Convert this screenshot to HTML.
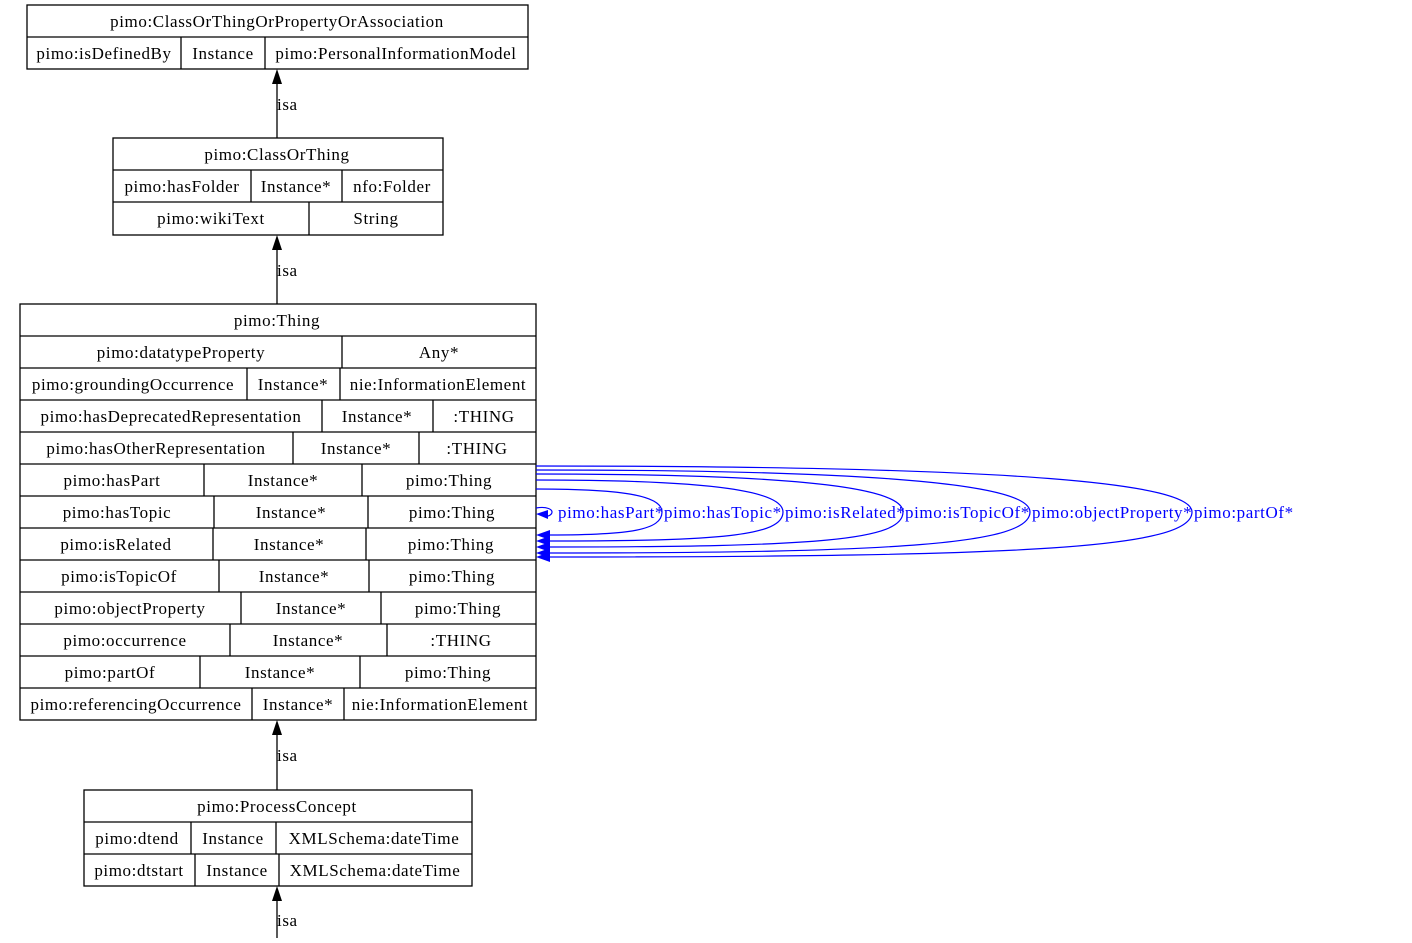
<!DOCTYPE html>
<html><head><style>
body{margin:0;background:#fff;}
svg text{font-family:"Liberation Serif",serif;font-size:17px;letter-spacing:0.6px;}
</style></head><body>
<svg width="1412" height="938" viewBox="0 0 1412 938" xmlns="http://www.w3.org/2000/svg">
<rect width="1412" height="938" fill="#fff"/>
<g fill="none" stroke="#000" stroke-width="1.3">
<rect x="27" y="5" width="501" height="64"/>
<line x1="27" y1="37" x2="528" y2="37"/>
<line x1="181" y1="37" x2="181" y2="69"/><line x1="265" y1="37" x2="265" y2="69"/>
<rect x="113" y="138" width="330" height="97"/>
<line x1="113" y1="170" x2="443" y2="170"/><line x1="113" y1="202" x2="443" y2="202"/>
<line x1="251" y1="170" x2="251" y2="202"/><line x1="342" y1="170" x2="342" y2="202"/>
<line x1="309" y1="202" x2="309" y2="235"/>
<rect x="20" y="304" width="516" height="416"/>
<path d="M20 336H536M20 368H536M20 400H536M20 432H536M20 464H536M20 496H536M20 528H536M20 560H536M20 592H536M20 624H536M20 656H536M20 688H536"/>
<path d="M342 336V368 M247 368V400M340 368V400 M322 400V432M433 400V432 M293 432V464M419 432V464 M204 464V496M362 464V496 M214 496V528M368 496V528 M213 528V560M366 528V560 M219 560V592M369 560V592 M241 592V624M381 592V624 M230 624V656M387 624V656 M200 656V688M360 656V688 M252 688V720M344 688V720"/>
<rect x="84" y="790" width="388" height="96"/>
<line x1="84" y1="822" x2="472" y2="822"/><line x1="84" y1="854" x2="472" y2="854"/>
<path d="M191 822V854M276 822V854M195 854V886M279 854V886"/>
<path d="M277 84V138M277 250V304M277 735V790M277 901V938"/>
</g>
<g fill="#000">
<polygon points="277,69 272,84 282,84"/><polygon points="277,235 272,250 282,250"/>
<polygon points="277,720 272,735 282,735"/><polygon points="277,886 272,901 282,901"/>
</g>
<g fill="none" stroke="#0000ff" stroke-width="1.2">
<path d="M536 489 C630 489,662 497,662 512 C662 530,630 535,550 535"/>
<path d="M536 480 C720 480,783 492,783 512 C783 536,720 541,550 541"/>
<path d="M536 474 C820 474,903 490,903 512 C903 540,820 547,550 547"/>
<path d="M536 470 C900 470,1030 486,1030 512 C1030 544,900 553,550 553"/>
<path d="M536 466 C1030 466,1192 484,1192 512 C1192 548,1030 557,550 557"/>
<path d="M536 508 C548 506,552 510,552 512 C552 515,548 516,548 516"/>
</g>
<g fill="#0000ff">
<polygon points="536,514 548,510 548,519"/>
<polygon points="536,535 550,530 550,540"/><polygon points="536,541 550,536 550,546"/>
<polygon points="536,547 550,542 550,552"/><polygon points="536,553 550,548 550,558"/>
<polygon points="536,557 550,552 550,562"/>
</g>
<g fill="#0000ff" style="letter-spacing:0.2px">
<text x="558" y="518">pimo:hasPart*</text>
<text x="664" y="518">pimo:hasTopic*</text>
<text x="785" y="518">pimo:isRelated*</text>
<text x="905" y="518">pimo:isTopicOf*</text>
<text x="1032" y="518">pimo:objectProperty*</text>
<text x="1194" y="518">pimo:partOf*</text>
</g>
<g fill="#000" text-anchor="middle">
<text x="277" y="27">pimo:ClassOrThingOrPropertyOrAssociation</text>
<text x="104" y="59">pimo:isDefinedBy</text><text x="223" y="59">Instance</text><text x="396" y="59">pimo:PersonalInformationModel</text>
<text x="277" y="160">pimo:ClassOrThing</text>
<text x="182" y="192">pimo:hasFolder</text><text x="296" y="192">Instance*</text><text x="392" y="192">nfo:Folder</text>
<text x="211" y="224">pimo:wikiText</text><text x="376" y="224">String</text>
<text x="277" y="326">pimo:Thing</text>
<text x="181" y="358">pimo:datatypeProperty</text><text x="439" y="358">Any*</text>
<text x="133" y="390">pimo:groundingOccurrence</text><text x="293" y="390">Instance*</text><text x="438" y="390">nie:InformationElement</text>
<text x="171" y="422">pimo:hasDeprecatedRepresentation</text><text x="377" y="422">Instance*</text><text x="484" y="422">:THING</text>
<text x="156" y="454">pimo:hasOtherRepresentation</text><text x="356" y="454">Instance*</text><text x="477" y="454">:THING</text>
<text x="112" y="486">pimo:hasPart</text><text x="283" y="486">Instance*</text><text x="449" y="486">pimo:Thing</text>
<text x="117" y="518">pimo:hasTopic</text><text x="291" y="518">Instance*</text><text x="452" y="518">pimo:Thing</text>
<text x="116" y="550">pimo:isRelated</text><text x="289" y="550">Instance*</text><text x="451" y="550">pimo:Thing</text>
<text x="119" y="582">pimo:isTopicOf</text><text x="294" y="582">Instance*</text><text x="452" y="582">pimo:Thing</text>
<text x="130" y="614">pimo:objectProperty</text><text x="311" y="614">Instance*</text><text x="458" y="614">pimo:Thing</text>
<text x="125" y="646">pimo:occurrence</text><text x="308" y="646">Instance*</text><text x="461" y="646">:THING</text>
<text x="110" y="678">pimo:partOf</text><text x="280" y="678">Instance*</text><text x="448" y="678">pimo:Thing</text>
<text x="136" y="710">pimo:referencingOccurrence</text><text x="298" y="710">Instance*</text><text x="440" y="710">nie:InformationElement</text>
<text x="277" y="812">pimo:ProcessConcept</text>
<text x="137" y="844">pimo:dtend</text><text x="233" y="844">Instance</text><text x="374" y="844">XMLSchema:dateTime</text>
<text x="139" y="876">pimo:dtstart</text><text x="237" y="876">Instance</text><text x="375" y="876">XMLSchema:dateTime</text>
</g>
<g fill="#000">
<text x="277" y="110">isa</text><text x="277" y="276">isa</text><text x="277" y="761">isa</text><text x="277" y="926">isa</text>
</g>
</svg>
</body></html>
